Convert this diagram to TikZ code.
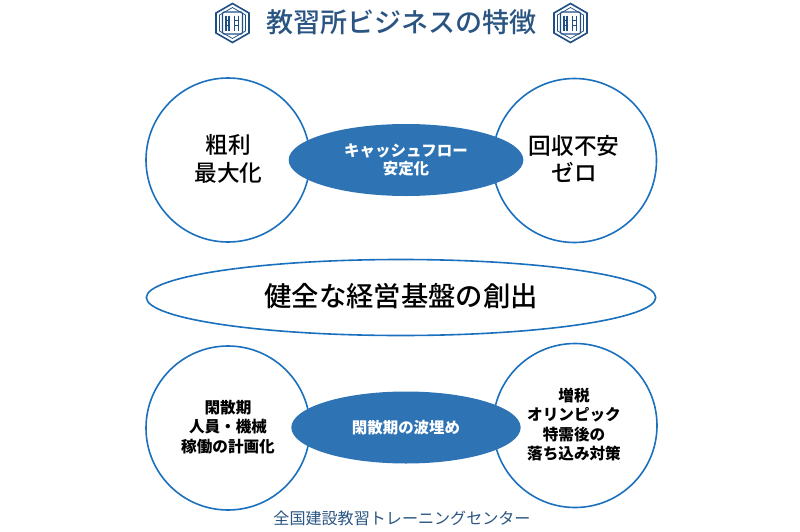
\documentclass[tikz,border=0pt]{standalone}
\usepackage{fontspec}
\setmainfont{Noto Sans CJK JP}
\newfontfamily\medfont{Noto Sans CJK JP Medium}
\usetikzlibrary{shapes.geometric}
\definecolor{ringblue}{HTML}{1B70BE}
\definecolor{fillblue}{HTML}{2E74B5}
\definecolor{titleblue}{HTML}{2A5582}
\definecolor{logoblue}{HTML}{1F4E85}
\tikzset{
  x=0.75pt,y=-0.75pt,
  ring/.style={circle,draw=ringblue,line width=1.2pt,fill=white,minimum size=123pt,inner sep=0pt},
  lens/.style={ellipse,fill=fillblue,inner sep=0pt,text=white,font=\fontsize{11.6pt}{14pt}\selectfont\bfseries,align=center},
  bigtxt/.style={font=\fontsize{17pt}{20.5pt}\selectfont\medfont,align=center,text=black},
  smalltxt/.style={font=\fontsize{11.7pt}{14.6pt}\selectfont\bfseries,align=center,text=black},
}
\newcommand{\logomark}[2]{%
  \begin{scope}[shift={(#1,#2)}]
    \draw[logoblue,line width=1.2pt] (0,-19.5)--(16.5,-10)--(16.5,10)--(0,19.5)--(-16.5,10)--(-16.5,-10)--cycle;
    \draw[logoblue,line width=0.55pt] (0,-15.5)--(13,-8)--(13,8)--(0,15.5)--(-13,8)--(-13,-8)--cycle;
    \draw[logoblue,line width=0.8pt,rounded corners=1pt] (-10,-11) rectangle (10,11);
    \foreach \xx in {-6.5,-3.5,2,6}{\draw[logoblue,line width=0.9pt] (\xx,-7.5)--(\xx,7.5);}
    \foreach \xa/\xb/\yy in {-6.5/-3.5/-2.5,-6.5/-3.5/2.5,2/6/-2.5,2/6/2.5}{\draw[logoblue,line width=0.7pt] (\xa,\yy)--(\xb,\yy);}
  \end{scope}}
\begin{document}
\begin{tikzpicture}
\useasboundingbox (0,0) rectangle (800,532);
\logomark{232.5}{23}
\logomark{570.5}{23}
\node[font=\fontsize{20.3pt}{24pt}\selectfont\medfont,text=titleblue] (title) at (401.5,22.5) {教習所ビジネスの特徴};
\node[ring] (c1) at (228,160) {};
\node[ring] (c2) at (574.5,160.5) {};
\node[ring] (c3) at (228,428) {};
\node[ring] (c4) at (575,425.5) {};
\node[lens,minimum width=176pt,minimum height=54pt] (e1) at (406,160) {キャッシュフロー\\安定化};
\node[lens,minimum width=172pt,minimum height=54pt] (e3) at (406,427.5) {閑散期の波埋め};
\node[ellipse,draw=ringblue,line width=1.2pt,fill=white,minimum width=382pt,minimum height=57pt,inner sep=0pt] (e2) at (401,297.5) {};
\node[font=\fontsize{20.5pt}{24pt}\selectfont\medfont] (e2t) at (401,296) {健全な経営基盤の創出};
\node[bigtxt] (t1) at (228.5,159) {粗利\\最大化};
\node[bigtxt] (t2) at (574,159) {回収不安\\ゼロ};
\node[smalltxt] (t3) at (228,427) {閑散期\\人員・機械\\稼働の計画化};
\node[smalltxt] (t4) at (574,424.5) {増税\\オリンピック\\特需後の\\落ち込み対策};
\node[font=\fontsize{12.05pt}{14pt}\selectfont,text=titleblue] (foot) at (402,518) {全国建設教習トレーニングセンター};
\end{tikzpicture}
\end{document}
